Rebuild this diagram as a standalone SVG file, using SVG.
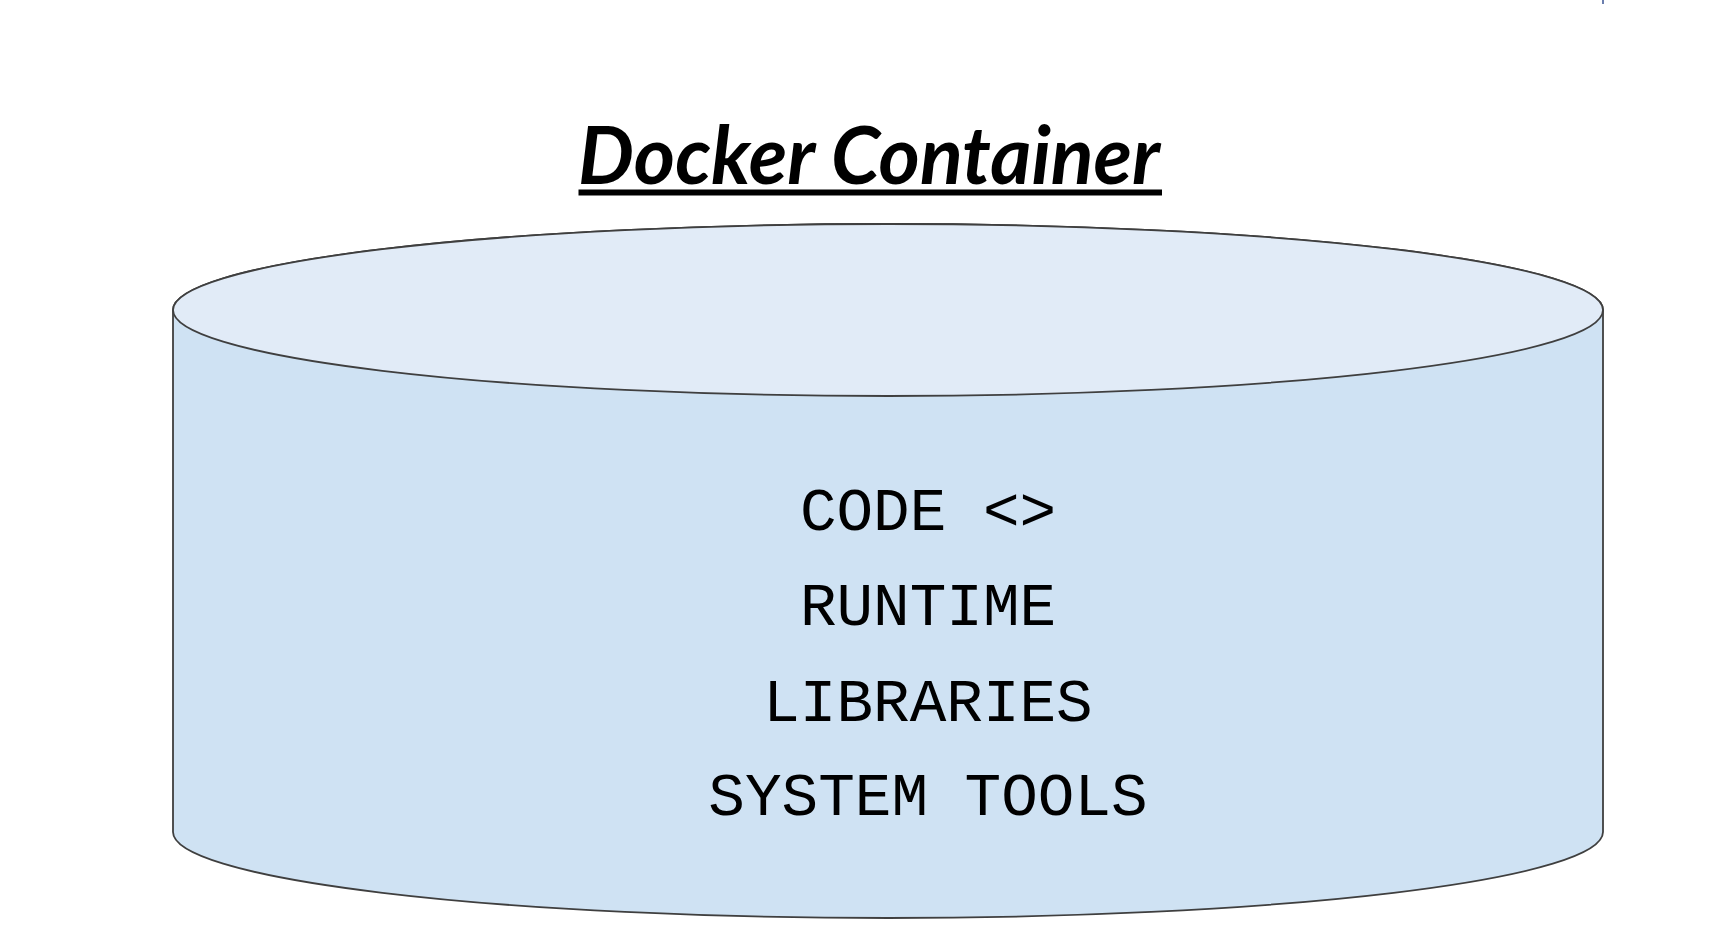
<svg xmlns="http://www.w3.org/2000/svg" width="1711" height="951" viewBox="0 0 1711 951">
<style>
.title{font-family:Lato,"Liberation Sans",sans-serif;font-weight:700;font-style:italic;font-size:81px;fill:#000}
.item{font-family:"Liberation Mono","DejaVu Sans Mono",monospace;font-size:61px;fill:#000;text-anchor:middle}
.edge{stroke:#3f3f3f;stroke-width:1.8}
</style>
<rect width="1711" height="951" fill="#ffffff"/>
<rect x="1602" y="0" width="2" height="4" fill="#6b7fae"/>
<g id="title">
<text class="title" x="578" y="184" textLength="582" lengthAdjust="spacingAndGlyphs">Docker Container</text>
<rect x="578.5" y="189.5" width="583.5" height="6" fill="#000"/>
</g>
<g id="container">
<path class="edge" d="M173,310 A715,86 0 0 1 1603,310 L1603,832 A715,86 0 0 1 173,832 Z" fill="#cfe2f3"/>
<ellipse class="edge" cx="888" cy="310" rx="715" ry="86" fill="#e1ebf7"/>
<text class="item" x="928" y="530">CODE &lt;&gt;</text>
<text class="item" x="928" y="625">RUNTIME</text>
<text class="item" x="928" y="721">LIBRARIES</text>
<text class="item" x="928" y="815">SYSTEM TOOLS</text>
</g>
<g id="connectors"/>
</svg>
